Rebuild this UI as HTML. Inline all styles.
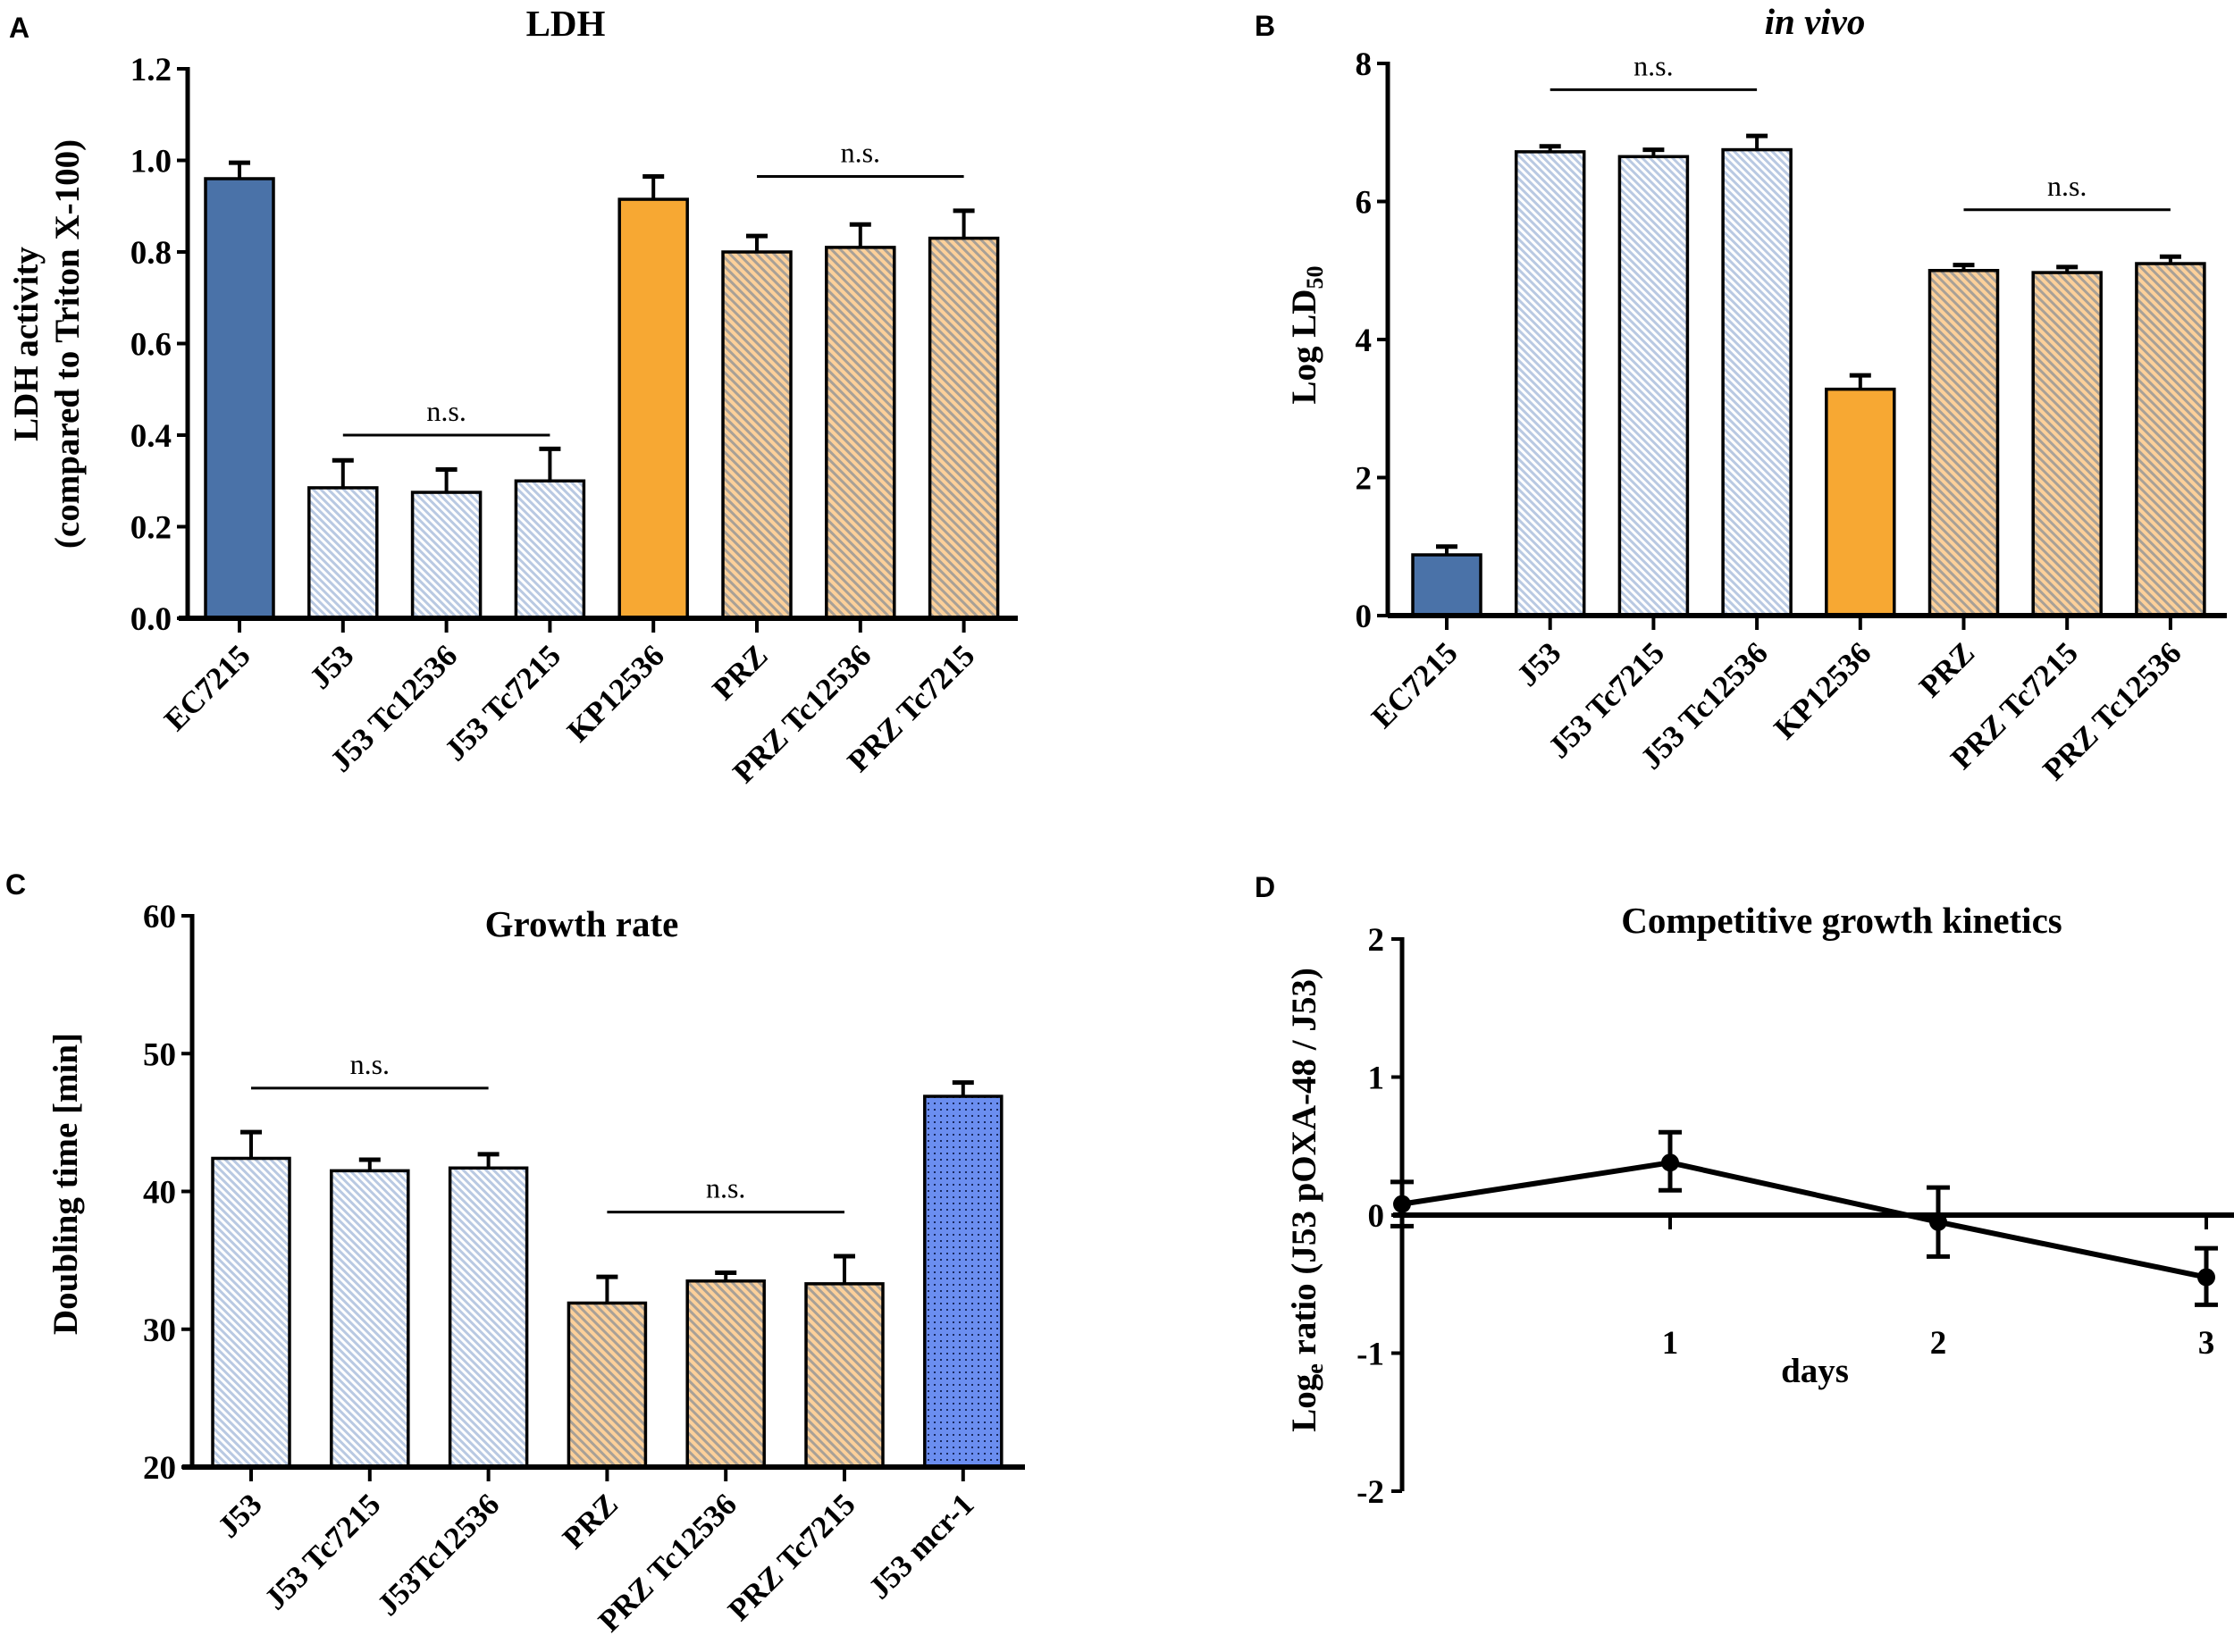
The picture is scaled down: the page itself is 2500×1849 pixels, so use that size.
<!DOCTYPE html>
<html><head><meta charset="utf-8"><title>Figure</title>
<style>
html,body{margin:0;padding:0;background:#fff;}
svg{display:block;font-family:"Liberation Serif",serif;}
.tick{font-size:37px;font-weight:bold;}
.cat{font-size:35px;font-weight:bold;}
.ttl{font-size:41px;font-weight:bold;}
.ax{font-size:39px;font-weight:bold;}
.ns{font-size:32px;}
.pl{font-family:"Liberation Sans",sans-serif;font-size:32px;font-weight:bold;}
</style></head>
<body>
<svg id="fig" width="2500" height="1849" viewBox="0 0 2500 1849" xmlns="http://www.w3.org/2000/svg">
<defs>
<pattern id="hatchBlue" patternUnits="userSpaceOnUse" width="6" height="6" patternTransform="rotate(45)">
<rect width="6" height="6" fill="#ffffff"/><rect width="6" height="3" fill="#b9c9e2"/></pattern>
<pattern id="hatchTan" patternUnits="userSpaceOnUse" width="7" height="7" patternTransform="rotate(45)">
<rect width="7" height="7" fill="#fcd09a"/><rect width="7" height="3" fill="#a8a096"/></pattern>
<pattern id="dots" patternUnits="userSpaceOnUse" width="7" height="7">
<rect width="7" height="7" fill="#6b8ef0"/><rect x="2" y="2" width="2" height="2" fill="#1a2a60"/></pattern>
</defs>
<g id="root"></g>
</svg>
<script>
// Panel A data
const catsA = ["EC7215","J53","J53 Tc12536","J53 Tc7215","KP12536","PRZ","PRZ Tc12536","PRZ Tc7215"];
const valsA = [0.96,0.285,0.275,0.30,0.915,0.80,0.81,0.83];
const errA  = [0.035,0.06,0.05,0.07,0.05,0.035,0.05,0.06];
const fillsA = ["#4a72a8","hb","hb","hb","#f7a833","ht","ht","ht"];
const ticksA = ["0.0","0.2","0.4","0.6","0.8","1.0","1.2"];
const tickValsA = [0,0.2,0.4,0.6,0.8,1.0,1.2];
const nsA = [[1,3,0.40],[5,7,0.965]];
// Panel B data
const catsB = ["EC7215","J53","J53 Tc7215","J53 Tc12536","KP12536","PRZ","PRZ Tc7215","PRZ Tc12536"];
const valsB = [0.88,6.72,6.65,6.75,3.28,5.0,4.97,5.1];
const errB  = [0.12,0.08,0.1,0.2,0.2,0.08,0.08,0.1];
const fillsB = ["#4a72a8","hb","hb","hb","#f7a833","ht","ht","ht"];
const ticksB = ["0","2","4","6","8"];
const tickValsB = [0,2,4,6,8];
const nsB = [[1,3,7.62],[5,7,5.88]];
// Panel C data
const catsC = ["J53","J53 Tc7215","J53Tc12536","PRZ","PRZ Tc12536","PRZ Tc7215","J53 mcr-1"];
const valsC = [42.4,41.5,41.7,31.9,33.5,33.3,46.9];
const errC  = [1.9,0.8,1.0,1.9,0.6,2.0,1.0];
const fillsC = ["hb","hb","hb","ht","ht","ht","dots"];
const ticksC = ["20","30","40","50","60"];
const tickValsC = [20,30,40,50,60];
const nsC = [[0,2,47.5],[3,5,38.5]];
// Panel D data
const daysD = [0,1,2,3];
const valsD = [0.08,0.38,-0.05,-0.45];
const errHiD = [0.24,0.6,0.2,-0.24];
const errLoD = [-0.08,0.18,-0.3,-0.65];
const ticksD = ["-2","-1","0","1","2"];
const tickValsD = [-2,-1,0,1,2];
const xTicksD = ["1","2","3"];
const xTickValsD = [1,2,3];

const NS="http://www.w3.org/2000/svg";
const root=document.getElementById('root');
function mk(tag,attrs,parent,txt){const e=document.createElementNS(NS,tag);for(const k in attrs)e.setAttribute(k,attrs[k]);if(txt!==undefined)e.textContent=txt;(parent||root).appendChild(e);return e;}
function fillOf(f){return f==="hb"?"url(#hatchBlue)":f==="ht"?"url(#hatchTan)":f==="dots"?"url(#dots)":f;}

function barChart(o){
  const g=mk('g',{});
  
  
  const y=v=>o.y0-(v-o.vmin)/(o.vmax-o.vmin)*(o.y0-o.y1);
  const x=i=>o.xc0+i*o.step;
  o.vals.forEach((v,i)=>{
    const top=y(v);
    const eb=mk('line',{x1:x(i),x2:x(i),y1:top,y2:y(v+o.err[i]),stroke:'#000','stroke-width':4},g);
    
    
    const cap=mk('line',{x1:x(i)-12,x2:x(i)+12,y1:y(v+o.err[i]),y2:y(v+o.err[i]),stroke:'#000','stroke-width':5},g);
    
    
    const r=mk('rect',{x:x(i)-o.bw/2,y:top,width:o.bw,height:o.y0-top,fill:fillOf(o.fills[i]),stroke:'#000','stroke-width':3.5},g);
    
    
    const tk=mk('line',{x1:x(i),x2:x(i),y1:o.y0,y2:o.y0+16,stroke:'#000','stroke-width':4},g);
    
    
    const lb=mk('text',{class:'cat','text-anchor':'end',transform:`translate(${x(i)+14},${o.y0+44}) rotate(-45)`},g,o.cats[i]);
    
    
  });
  const ya=mk('line',{x1:o.ax,x2:o.ax,y1:o.y1-2,y2:o.y0,stroke:'#000','stroke-width':5},g);
  
  
  const xa=mk('line',{x1:o.xa0,x2:o.xa1,y1:o.y0,y2:o.y0,stroke:'#000','stroke-width':6},g);
  
  
  o.tickVals.forEach((t,i)=>{
    const tl=mk('line',{x1:o.ax-12,x2:o.ax,y1:y(t),y2:y(t),stroke:'#000','stroke-width':4},g);
    
    
    const tt=mk('text',{class:'tick','text-anchor':'end',x:o.ax-18,y:y(t)+13},g,o.ticks[i]);
    
    
  });
  o.ns.forEach(n=>{
    const l=mk('line',{x1:x(n[0]),x2:x(n[1]),y1:y(n[2]),y2:y(n[2]),stroke:'#000','stroke-width':3},g);
    
    
    const t=mk('text',{class:'ns','text-anchor':'middle',x:(x(n[0])+x(n[1]))/2,y:y(n[2])-16},g,'n.s.');
    
    
  });
}

barChart({name:'panel-a-ldh-chart',cats:catsA,vals:valsA,err:errA,fills:fillsA,ticks:ticksA,tickVals:tickValsA,ns:nsA,
  vmin:0,vmax:1.2,y0:692,y1:77,ax:210,xa0:200,xa1:1139,xc0:268,step:115.8,bw:76});
barChart({name:'panel-b-invivo-chart',cats:catsB,vals:valsB,err:errB,fills:fillsB,ticks:ticksB,tickVals:tickValsB,ns:nsB,
  vmin:0,vmax:8,y0:689,y1:71,ax:1553,xa0:1553,xa1:2492,xc0:1619,step:115.7,bw:76});
barChart({name:'panel-c-growth-chart',cats:catsC,vals:valsC,err:errC,fills:fillsC,ticks:ticksC,tickVals:tickValsC,ns:nsC,
  vmin:20,vmax:60,y0:1642,y1:1025,ax:215,xa0:204,xa1:1147,xc0:281,step:132.8,bw:86});

(function(){
  const g=mk('g',{});
  
  
  const ax=1569,y2=1051,ym2=1669;
  const y=v=>ym2-(v+2)/4*(ym2-y2);
  const x=d=>ax+d*300;
  const ya=mk('line',{x1:ax,x2:ax,y1:y2-2,y2:ym2,stroke:'#000','stroke-width':5},g);
  
  
  tickValsD.forEach((t,i)=>{
    const tl=mk('line',{x1:ax-12,x2:ax,y1:y(t),y2:y(t),stroke:'#000','stroke-width':4},g);
    
    
    const tt=mk('text',{class:'tick','text-anchor':'end',x:ax-20,y:y(t)+13},g,ticksD[i]);
    
    
  });
  const xa=mk('line',{x1:ax-10,x2:2500,y1:y(0),y2:y(0),stroke:'#000','stroke-width':6},g);
  
  
  xTickValsD.forEach((d,i)=>{
    const tl=mk('line',{x1:x(d),x2:x(d),y1:y(0),y2:y(0)+16,stroke:'#000','stroke-width':4},g);
    
    
    const tt=mk('text',{class:'tick','text-anchor':'middle',x:x(d),y:1515},g,xTicksD[i]);
    
    
  });
  const pts=daysD.map((d,i)=>x(d)+','+y(valsD[i])).join(' ');
  const pl=mk('polyline',{points:pts,fill:'none',stroke:'#000','stroke-width':6},g);
  
  
  daysD.forEach((d,i)=>{
    const e=mk('path',{d:`M${x(d)},${y(errHiD[i])}V${y(errLoD[i])}M${x(d)-13},${y(errHiD[i])}h26M${x(d)-13},${y(errLoD[i])}h26`,stroke:'#000','stroke-width':5,fill:'none'},g);
    
    
    const c=mk('circle',{cx:x(d),cy:y(valsD[i]),r:10,fill:'#000'},g);
    
    
  });
})();
</script>
<svg style="position:absolute;left:0;top:0" width="2500" height="1849" xmlns="http://www.w3.org/2000/svg">
<text class="pl" x="10" y="42">A</text>
<text class="ttl" x="633" y="40" text-anchor="middle">LDH</text>
<text class="ax" text-anchor="middle" transform="translate(42,385) rotate(-90)">LDH activity</text>
<text class="ax" text-anchor="middle" transform="translate(88,385) rotate(-90)">(compared to Triton  X-100)</text>

<text class="pl" x="1404" y="40">B</text>
<text class="ttl" x="2031" y="38" text-anchor="middle" font-style="italic">in vivo</text>
<text class="ax" text-anchor="middle" transform="translate(1472,375) rotate(-90)">Log LD<tspan font-size="26" dy="8">50</tspan></text>

<text class="pl" x="6" y="1001">C</text>
<text class="ttl" x="651" y="1048" text-anchor="middle">Growth rate</text>
<text class="ax" text-anchor="middle" transform="translate(86,1325) rotate(-90)">Doubling time [min]</text>

<text class="pl" x="1404" y="1004">D</text>
<text class="ttl" x="2061" y="1044" text-anchor="middle">Competitive growth kinetics</text>
<text class="ax" x="2031" y="1547" text-anchor="middle">days</text>
<text class="ax" text-anchor="middle" transform="translate(1472,1343) rotate(-90)">Log<tspan font-size="26" dy="8">e</tspan><tspan dy="-8"> ratio (J53 pOXA-48 / J53)</tspan></text>
</svg>
</body></html>
